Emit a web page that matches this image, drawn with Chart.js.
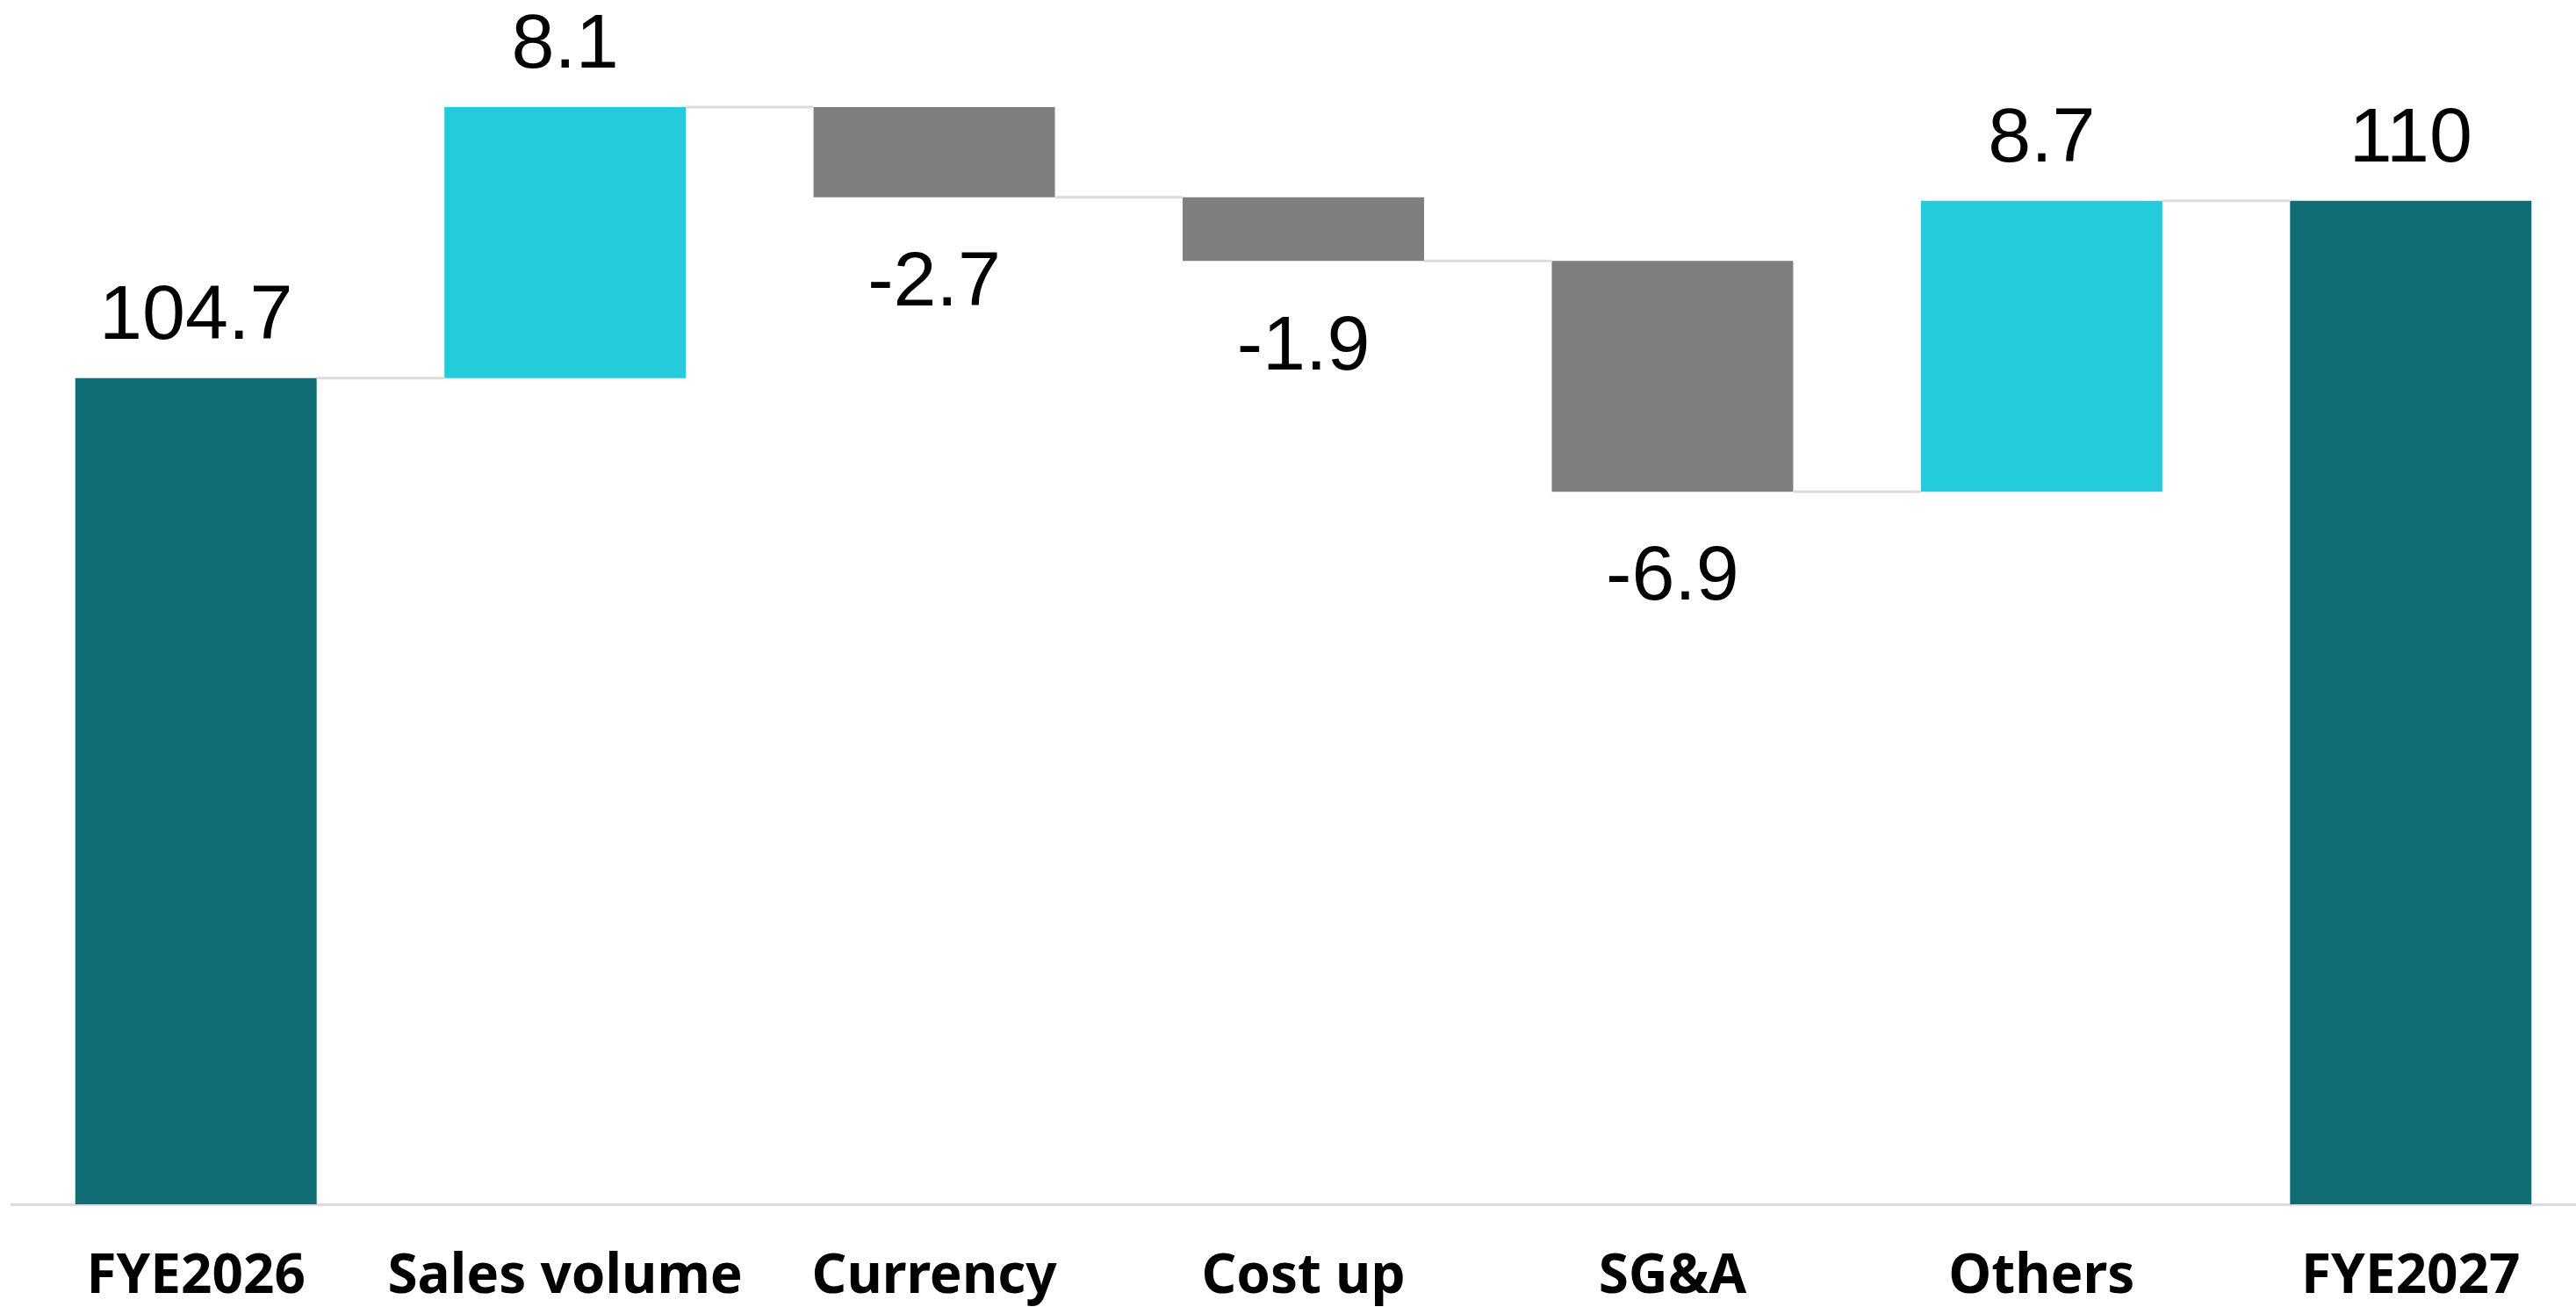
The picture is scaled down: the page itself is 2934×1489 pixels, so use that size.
<!DOCTYPE html>
<html>
<head>
<meta charset="utf-8">
<script src="https://cdn.jsdelivr.net/npm/chart.js@4.4.1/dist/chart.umd.min.js"></script>
<style>
  html, body { margin: 0; padding: 0; background: #fff; overflow: hidden; }
  #wrap { width: 2956px; height: 1489px; }
</style>
</head>
<body>
<div id="wrap"><canvas id="waterfall"></canvas></div>
<script>
const categories = ['FYE2026', 'Sales volume', 'Currency', 'Cost up', 'SG&A', 'Others', 'FYE2027'];
const startValue = 104.7;
const changes = [8.1, -2.7, -1.9, -6.9, 8.7];
const endValue = 110;

const teal = '#116d75';
const cyan = '#24cbdb';
const grey = '#7f7f7f';

// floating bars: [from, to] for each step, totals keep the running level
let running = startValue;
const ranges = [[0, startValue]];
const totals = [startValue];
const colors = [teal];
const labelTexts = [String(startValue)];
changes.forEach(c => {
    const from = running;
    running = +(running + c).toFixed(1);
    ranges.push([from, running]);
    totals.push(running);
    colors.push(c >= 0 ? cyan : grey);
    labelTexts.push(String(c));
});
ranges.push([0, endValue]);
totals.push(endValue);
colors.push(teal);
labelTexts.push(String(endValue));

const waterfallExtras = {
    id: 'waterfallExtras',
    afterDatasetsDraw(chart) {
        const ctx = chart.ctx;
        const meta = chart.getDatasetMeta(0);
        const y = chart.scales.y;
        ctx.save();
        // connector lines
        ctx.strokeStyle = '#dcdcdc';
        ctx.lineWidth = 3;
        for (let i = 0; i < meta.data.length - 1; i++) {
            const a = meta.data[i], b = meta.data[i + 1];
            const yy = y.getPixelForValue(totals[i]);
            ctx.beginPath();
            ctx.moveTo(a.x + a.width / 2, yy);
            ctx.lineTo(b.x - b.width / 2, yy);
            ctx.stroke();
        }
        // value labels
        ctx.fillStyle = '#000';
        ctx.font = '88px "Liberation Sans", Arial, sans-serif';
        ctx.textAlign = 'center';
        meta.data.forEach((bar, i) => {
            const lo = Math.min(ranges[i][0], ranges[i][1]);
            const hi = Math.max(ranges[i][0], ranges[i][1]);
            const isNeg = i > 0 && i < meta.data.length - 1 && changes[i - 1] < 0;
            if (isNeg) {
                ctx.textBaseline = 'top';
                ctx.fillText(labelTexts[i], bar.x, y.getPixelForValue(lo) + 55);
            } else {
                ctx.textBaseline = 'alphabetic';
                ctx.fillText(labelTexts[i], bar.x, y.getPixelForValue(hi) - 45);
            }
        });
        ctx.restore();
    }
};

new Chart(document.getElementById('waterfall'), {
    type: 'bar',
    data: {
        labels: categories,
        datasets: [{
            data: ranges,
            backgroundColor: colors,
            borderWidth: 0,
            categoryPercentage: 1,
            barPercentage: 0.654
        }]
    },
    options: {
        responsive: true,
        maintainAspectRatio: false,
        animation: false,
        layout: {
            padding: { left: 13, right: 0, top: 0, bottom: 0 }
        },
        plugins: {
            legend: { display: false },
            tooltip: { enabled: false }
        },
        scales: {
            x: {
                grid: { display: false, drawTicks: false },
                border: { display: true, color: '#dcdcdc', width: 3 },
                ticks: {
                    color: '#000',
                    font: { family: '"Noto Sans", "Open Sans", sans-serif', size: 62, weight: 'bold' },
                    padding: 46,
                    maxRotation: 0,
                    autoSkip: false
                },
                afterFit(scale) { scale.height = 117; }
            },
            y: {
                display: false,
                min: 80,
                max: 116
            }
        }
    },
    plugins: [waterfallExtras]
});
</script>
</body>
</html>
